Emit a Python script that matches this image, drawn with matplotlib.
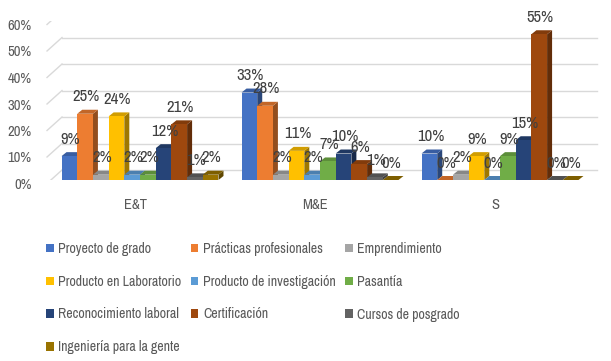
import matplotlib
matplotlib.use("Agg")
import matplotlib.pyplot as plt
from matplotlib.patches import Polygon
from matplotlib.lines import Line2D
from matplotlib.transforms import IdentityTransform, ScaledTranslation
import matplotlib.colors as mcolors
import numpy as np

plt.rcParams['font.family'] = ['Archivo Narrow', 'Liberation Sans', 'DejaVu Sans']

categories = ["E&T", "M&E", "S"]
series_names = ["Proyecto de grado", "Prácticas profesionales", "Emprendimiento",
                "Producto en Laboratorio", "Producto de investigación", "Pasantía",
                "Reconocimiento laboral", "Certificación", "Cursos de posgrado",
                "Ingeniería para la gente"]
values = [
    [9, 33, 10],
    [25, 28, 0],
    [2, 2, 2],
    [24, 11, 9],
    [2, 2, 0],
    [2, 7, 9],
    [12, 10, 15],
    [21, 6, 55],
    [1, 1, 0],
    [2, 0, 0],
]
colors = ["#4472C4", "#ED7D31", "#A5A5A5", "#FFC000", "#5B9BD5",
          "#70AD47", "#264478", "#9E480E", "#636363", "#997300"]
yticks = [0, 0.1, 0.2, 0.3, 0.4, 0.5, 0.6]
ytick_labels = ["0%", "10%", "20%", "30%", "40%", "50%", "60%"]

W, H = 611, 361
fig = plt.figure(figsize=(W / 100, H / 100), dpi=100)
# axes: x px 40..600, y px (from top) 21..180
ax = fig.add_axes([40 / W, (H - 180) / H, 560 / W, 159 / H])
ax.set_xlim(-0.5556, 2.5556)
ax.set_ylim(0, 0.6)
for s in ax.spines.values():
    s.set_visible(False)
ax.set_facecolor('none')

n = len(series_names)
bw = 0.0872
DX, DY = 5, 4  # depth offset px

def shade(c, f):
    r, g, b = mcolors.to_rgb(c)
    return (r * f, g * f, b * f)

fig.canvas.draw()
td = ax.transData

# back wall gridlines
x_left_back = td.transform((-0.4333, 0))[0]
x_right_back = td.transform((2.539, 0))[0]
for v in yticks:
    yf = td.transform((0, v))[1]
    yb = yf + 10
    ax.add_line(Line2D([x_left_back, x_right_back], [yb, yb], transform=IdentityTransform(),
                       color="#D9D9D9", lw=1.0, zorder=0.5))
    ax.add_line(Line2D([x_left_back - 15, x_left_back], [yf - 3.5, yb], transform=IdentityTransform(),
                       color="#D9D9D9", lw=1.0, zorder=0.5))

x = np.arange(len(categories))
for i, (name, vals, col) in enumerate(zip(series_names, values, colors)):
    vals_f = np.array(vals) / 100.0
    xs = x - 0.5 * n * bw + (i + 0.5) * bw
    z = 2 + i * 0.01
    ax.bar(xs, vals_f, width=bw, color=col, label=name, zorder=z + 0.005, linewidth=0)
    for xc, v, lbl in zip(xs, vals_f, vals):
        x0, y0 = td.transform((xc - bw / 2, 0))
        x1, y1 = td.transform((xc + bw / 2, v))
        side = Polygon([(x1, y0), (x1 + DX, y0 + DY), (x1 + DX, y1 + DY), (x1, y1)],
                       closed=True, transform=IdentityTransform(), facecolor=shade(col, 0.62),
                       edgecolor='none', zorder=z)
        top = Polygon([(x0, y1), (x0 + DX, y1 + DY), (x1 + DX, y1 + DY), (x1, y1)],
                      closed=True, transform=IdentityTransform(), facecolor=shade(col, 0.82),
                      edgecolor='none', zorder=z)
        ax.add_patch(side)
        ax.add_patch(top)
        ax.annotate(f"{lbl}%", (xc, v), xytext=(1, 17), textcoords='offset pixels',
                    ha='center', va='center', fontsize=12, color="#404040", zorder=10,
                    annotation_clip=False)

ax.set_yticks(yticks)
ax.set_yticklabels(ytick_labels, fontsize=10.5, color="#595959")
ax.tick_params(axis='y', length=0, pad=6)
for t in ax.get_yticklabels():
    t.set_transform(t.get_transform() + ScaledTranslation(0, -0.035, fig.dpi_scale_trans))

ax.set_xticks(x)
ax.set_xticklabels(categories, fontsize=10.5, color="#595959")
ax.tick_params(axis='x', length=0, pad=13)
for t in ax.get_xticklabels():
    t.set_transform(t.get_transform() + ScaledTranslation(-0.05, 0, fig.dpi_scale_trans))

handles, labels = ax.get_legend_handles_labels()
order = [0, 3, 6, 9, 1, 4, 7, 2, 5, 8]
leg = fig.legend([handles[k] for k in order], [labels[k] for k in order],
                 loc='upper left', bbox_to_anchor=(46 / W, 1 - 242 / H), ncol=3,
                 frameon=False, fontsize=10, handlelength=0.55, handleheight=0.55,
                 handletextpad=0.35, columnspacing=0.65, labelspacing=1.35,
                 borderaxespad=0, borderpad=0)
for t in leg.get_texts():
    t.set_color("#595959")

fig.savefig("out.png", dpi=100)
